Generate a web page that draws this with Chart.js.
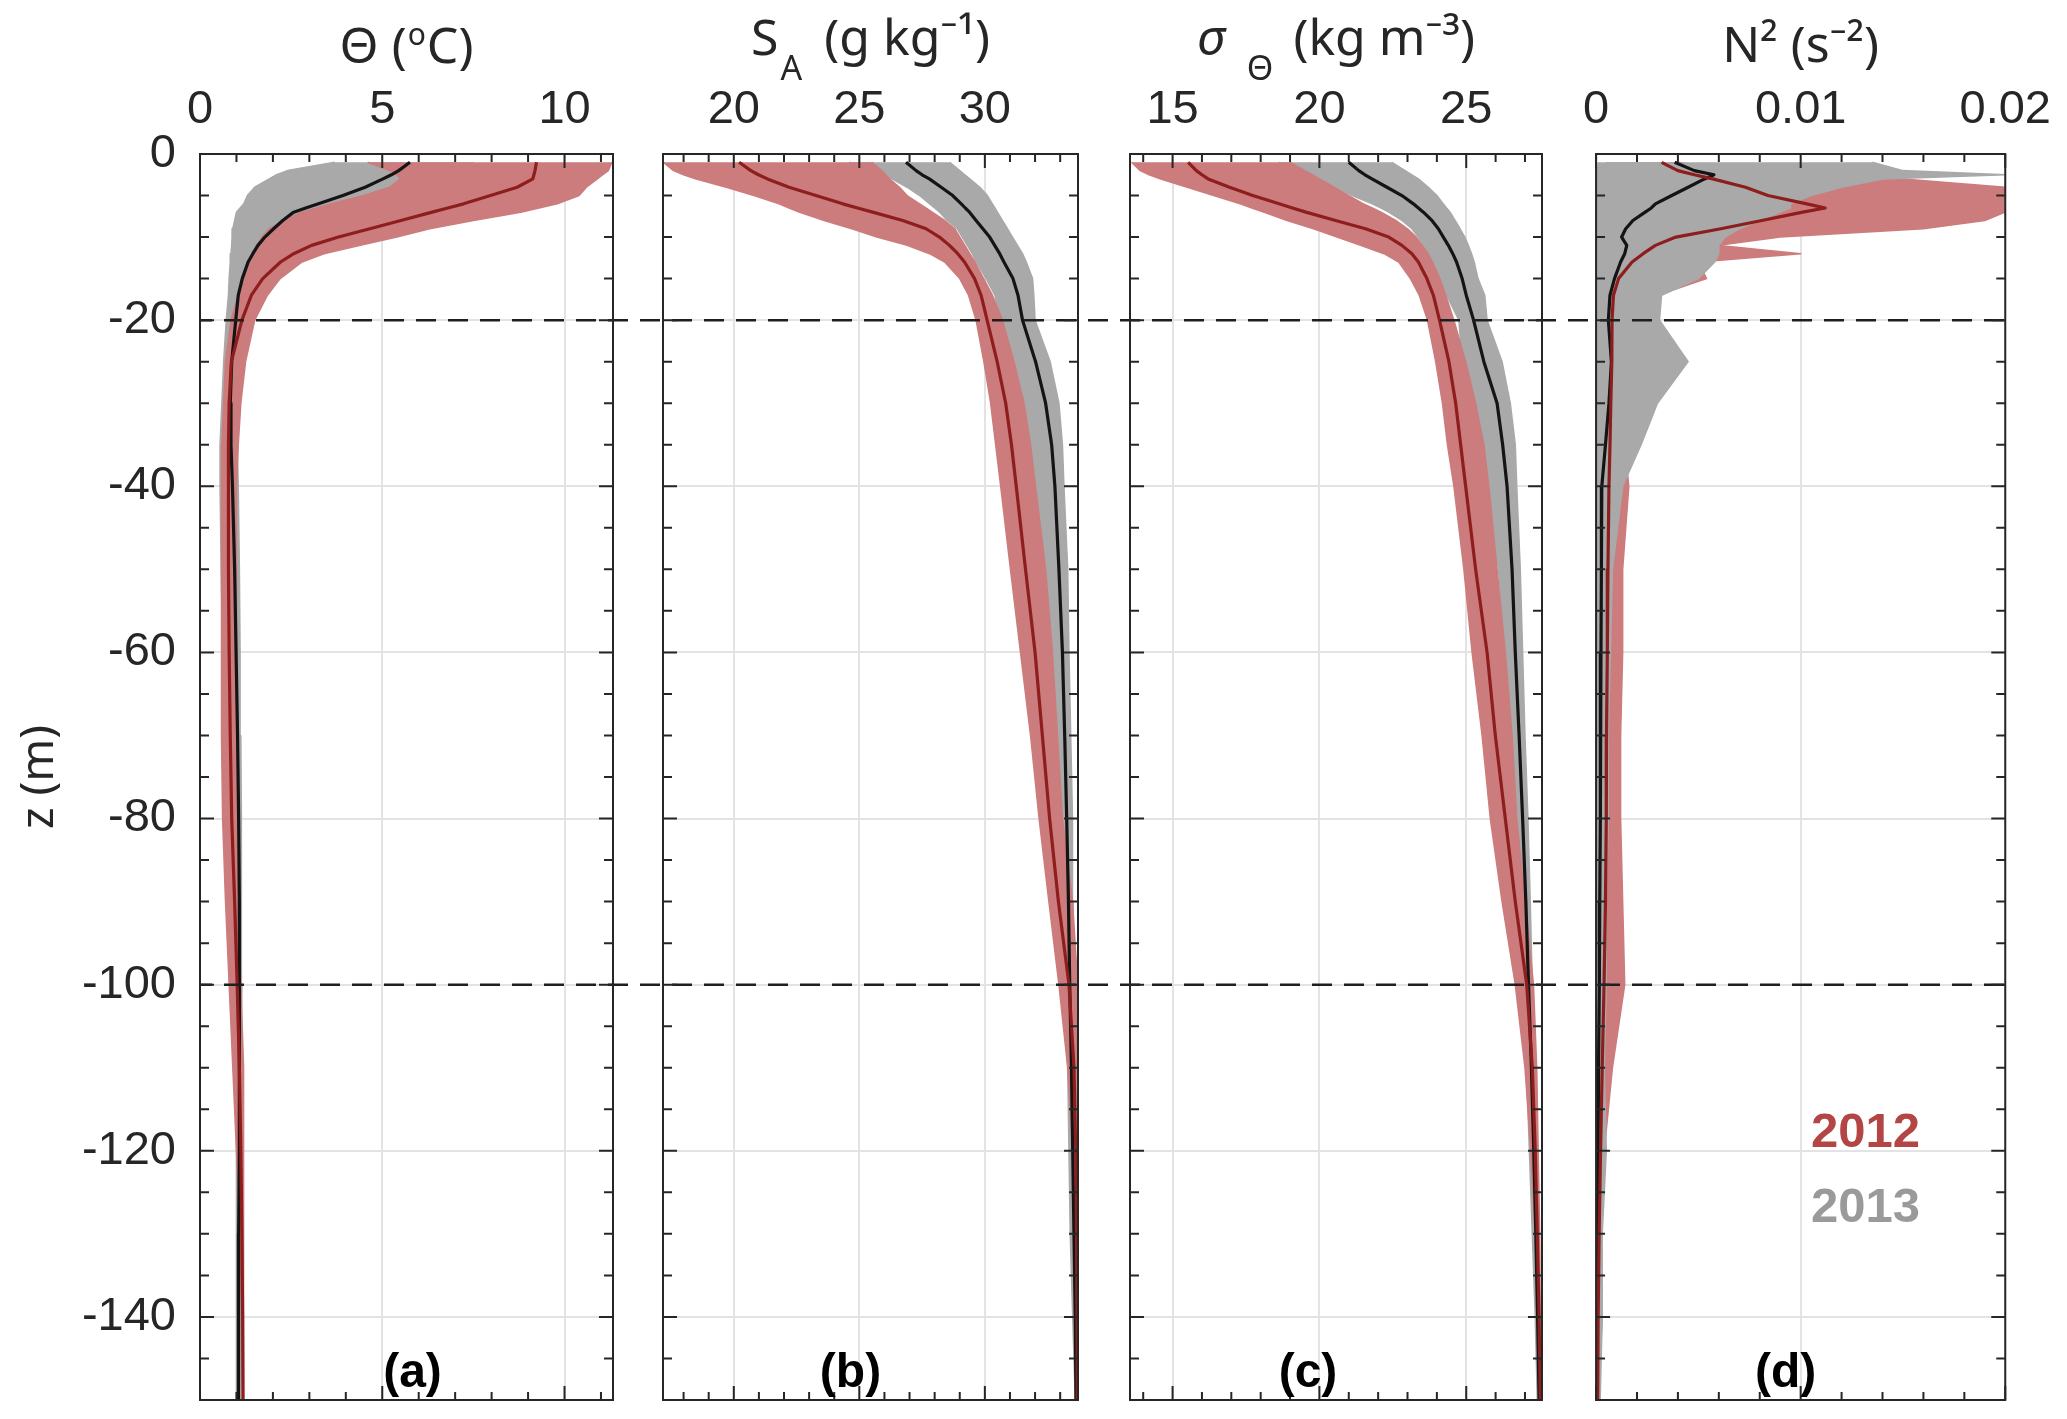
<!DOCTYPE html>
<html>
<head>
<meta charset="utf-8">
<title>Profiles 2012 / 2013</title>
<script src="https://cdn.jsdelivr.net/npm/chart.js@4.4.1/dist/chart.umd.min.js"></script>
<style>
  html, body { margin: 0; padding: 0; background: #fff; }
  #fig { position: relative; width: 2067px; height: 1419px; overflow: hidden; }
  #fig canvas { position: absolute; top: 0; }
</style>
</head>
<body>
<div id="fig">
  <canvas id="pa" width="638" height="1419" style="left:0px"></canvas>
  <canvas id="pb" width="466" height="1419" style="left:638px"></canvas>
  <canvas id="pc" width="463" height="1419" style="left:1104px"></canvas>
  <canvas id="pd" width="500" height="1419" style="left:1567px"></canvas>
</div>
<script>
// depth levels (m), shared by every profile
const depth = [-1, -2, -2.5, -3, -4, -5, -6, -6.5, -7, -8, -9, -10, -11, -12, -13, -15, -17,
  -20, -25, -30, -35, -40, -50, -60, -70, -80, -90, -100, -110, -120, -130, -140, -150];

const zTicks = [-140, -120, -100, -80, -60, -40, -20, 0];
const dashLevels = [-20, -100];

// (a) conservative temperature
const thetaTicks = [0, 5, 10];
const thetaMean13 = [5.76, 5.45, 5.25, 5.02, 4.53, 3.92, 3.25, 2.90, 2.57, 2.27, 2.02, 1.78, 1.59, 1.45, 1.32, 1.16, 1.05,
  0.98, 0.87, 0.83, 0.85, 0.89, 0.95, 0.99, 1.03, 1.06, 1.08, 1.09, 1.08, 1.07, 1.06, 1.06, 1.05];
const thetaMean12 = [9.23, 9.19, 9.16, 9.13, 8.70, 7.97, 7.23, 6.80, 6.37, 5.51, 4.66, 3.80, 3.06, 2.57, 2.21, 1.72, 1.41,
  1.15, 0.86, 0.80, 0.78, 0.78, 0.78, 0.80, 0.83, 0.87, 0.95, 1.02, 1.08, 1.12, 1.15, 1.17, 1.18];
const thetaLo13 = [3.70, 2.40, 2.10, 1.90, 1.50, 1.30, 1.20, 1.10, 1.00, 0.95, 0.90, 0.88, 0.87, 0.85, 0.83, 0.80, 0.78,
  0.72, 0.65, 0.60, 0.55, 0.55, 0.58, 0.62, 0.66, 0.72, 0.85, 0.95, 1.00, 1.00, 1.00, 1.00, 1.00];
const thetaHi13 = [7.50, 7.20, 6.90, 6.60, 5.80, 5.00, 4.30, 3.95, 3.60, 3.00, 2.60, 2.30, 2.10, 1.90, 1.80, 1.65, 1.55,
  1.50, 1.10, 1.05, 1.02, 1.05, 1.08, 1.10, 1.12, 1.13, 1.14, 1.15, 1.12, 1.12, 1.12, 1.12, 1.12];
const thetaLo12 = [4.60, 5.20, 5.40, 5.50, 5.20, 4.50, 3.60, 3.20, 2.80, 2.30, 1.90, 1.70, 1.55, 1.45, 1.35, 1.20, 1.05,
  0.85, 0.70, 0.65, 0.60, 0.60, 0.58, 0.58, 0.60, 0.62, 0.70, 0.80, 0.90, 1.00, 1.10, 1.15, 1.17];
const thetaHi12 = [11.30, 11.20, 11.05, 10.90, 10.60, 10.40, 9.80, 9.30, 8.80, 7.50, 6.30, 5.40, 4.40, 3.40, 2.80, 2.20, 1.85,
  1.50, 1.25, 1.12, 1.05, 1.00, 1.00, 1.00, 1.00, 1.02, 1.05, 1.12, 1.18, 1.20, 1.20, 1.20, 1.20];

// (b) absolute salinity
const saTicks = [20, 25, 30];
const saMean13 = [26.86, 27.26, 27.50, 27.79, 28.26, 28.72, 29.06, 29.22, 29.39, 29.65, 29.92, 30.19, 30.39, 30.59, 30.76, 31.12, 31.32,
  31.50, 32.02, 32.42, 32.66, 32.79, 32.95, 33.09, 33.18, 33.26, 33.33, 33.38, 33.45, 33.50, 33.55, 33.60, 33.63];
const saMean12 = [20.21, 20.68, 20.98, 21.34, 22.20, 23.27, 24.34, 24.93, 25.53, 26.73, 27.66, 28.19, 28.59, 28.92, 29.19, 29.59, 29.85,
  30.09, 30.49, 30.83, 31.06, 31.25, 31.62, 32.00, 32.29, 32.58, 32.93, 33.35, 33.55, 33.62, 33.65, 33.67, 33.68];
const saLo13 = [24.60, 25.50, 25.90, 26.30, 26.90, 27.40, 27.80, 28.00, 28.20, 28.50, 28.90, 29.10, 29.30, 29.50, 29.65, 30.05, 30.40,
  30.60, 30.80, 31.50, 31.75, 31.90, 32.40, 32.70, 32.80, 32.90, 33.00, 33.15, 33.30, 33.35, 33.40, 33.50, 33.60];
const saHi13 = [28.60, 29.00, 29.20, 29.40, 29.80, 30.10, 30.30, 30.40, 30.50, 30.70, 30.90, 31.10, 31.30, 31.50, 31.65, 31.90, 31.95,
  32.00, 32.60, 32.95, 33.09, 33.15, 33.30, 33.35, 33.42, 33.49, 33.51, 33.58, 33.65, 33.68, 33.70, 33.70, 33.70];
const saLo12 = [17.20, 17.60, 18.00, 18.50, 19.70, 20.80, 21.80, 22.20, 22.60, 23.60, 24.70, 25.70, 26.90, 27.80, 28.40, 29.00, 29.35,
  29.65, 29.96, 30.23, 30.43, 30.63, 31.02, 31.42, 31.82, 32.16, 32.55, 32.95, 33.30, 33.50, 33.60, 33.65, 33.65];
const saHi12 = [25.50, 25.90, 26.05, 26.20, 26.60, 26.90, 27.40, 27.65, 27.90, 28.40, 28.80, 29.00, 29.20, 29.40, 29.60, 29.95, 30.30,
  30.70, 31.16, 31.56, 31.82, 32.02, 32.42, 32.69, 32.89, 33.09, 33.49, 33.69, 33.70, 33.70, 33.70, 33.70, 33.70];

// (c) potential density anomaly
const sigTicks = [15, 20, 25];
const sigMean13 = [21.00, 21.34, 21.55, 21.79, 22.30, 22.81, 23.20, 23.37, 23.54, 23.83, 24.05, 24.22, 24.39, 24.54, 24.67, 24.86, 25.00,
  25.25, 25.60, 26.05, 26.24, 26.39, 26.56, 26.67, 26.80, 26.92, 27.03, 27.12, 27.22, 27.30, 27.37, 27.43, 27.48];
const sigMean12 = [15.53, 15.81, 16.00, 16.21, 16.94, 17.73, 18.63, 19.08, 19.54, 20.55, 21.57, 22.36, 22.81, 23.15, 23.37, 23.66, 23.88,
  24.09, 24.41, 24.64, 24.81, 24.98, 25.32, 25.71, 25.99, 26.33, 26.67, 27.06, 27.25, 27.35, 27.42, 27.48, 27.52];
const sigLo13 = [18.63, 19.30, 19.65, 19.99, 20.55, 21.12, 21.80, 22.10, 22.36, 22.81, 23.15, 23.37, 23.54, 23.71, 23.88, 24.10, 24.33,
  24.75, 24.86, 25.09, 25.48, 25.65, 26.10, 26.33, 26.50, 26.60, 26.72, 26.90, 27.05, 27.15, 27.25, 27.35, 27.42];
const sigHi13 = [22.47, 22.92, 23.15, 23.37, 23.71, 24.00, 24.22, 24.33, 24.45, 24.62, 24.79, 24.95, 25.07, 25.18, 25.27, 25.40, 25.63,
  25.71, 26.22, 26.50, 26.67, 26.72, 26.84, 26.92, 27.00, 27.10, 27.18, 27.25, 27.32, 27.38, 27.43, 27.48, 27.52];
const sigLo12 = [13.60, 13.90, 14.20, 14.60, 15.50, 16.40, 17.30, 17.70, 18.10, 18.90, 19.80, 20.60, 21.40, 22.20, 22.70, 23.10, 23.40,
  23.68, 23.96, 24.19, 24.36, 24.58, 24.92, 25.20, 25.54, 25.82, 26.22, 26.67, 27.00, 27.20, 27.35, 27.42, 27.50];
const sigHi12 = [19.00, 19.50, 19.75, 20.00, 20.50, 21.00, 21.50, 21.80, 22.10, 22.60, 23.00, 23.30, 23.50, 23.70, 23.85, 24.10, 24.30,
  24.58, 24.98, 25.32, 25.60, 25.77, 26.05, 26.33, 26.56, 26.72, 27.00, 27.29, 27.40, 27.45, 27.50, 27.52, 27.55];

// (d) buoyancy frequency squared
const n2Ticks = [0, 0.01, 0.02];
const n2Mean13 = [0.00384, 0.0048, 0.00576, 0.0053, 0.0045, 0.0037, 0.0029, 0.0027, 0.0024, 0.0018, 0.00145, 0.00125, 0.0015, 0.0014, 0.0012, 0.0009, 0.00068,
  0.0006, 0.00075, 0.00063, 0.00046, 0.00028, 0.00026, 0.00024, 0.00022, 0.0002, 0.00018, 0.00016, 0.00012, 0.0001, 0.00008, 0.00006, 0.00005];
const n2Mean12 = [0.0032, 0.0040, 0.0048, 0.0057, 0.0073, 0.0084, 0.0103, 0.0112, 0.0101, 0.0081, 0.0061, 0.0039, 0.0029, 0.0023, 0.00176, 0.0011, 0.00085,
  0.00078, 0.00077, 0.00072, 0.00068, 0.00063, 0.00058, 0.00055, 0.00051, 0.0005, 0.00046, 0.00039, 0.0003, 0.00022, 0.00015, 0.0001, 0.00008];
const n2Lo13 = [0.0001, 0.00008, 0.00008, 0.00006, 0.00006, 0.00005, 0.00005, 0.00005, 0.00004, 0.00004, 0.00004, 0.00003, 0.00003, 0.00003, 0.00003, 0.00002, 0.00002,
  0.00002, 0.00002, 0.00002, 0.00001, 0.00001, 0.00001, 0.00001, 0.00001, 0.00001, 0.00001, 0.00001, 0.00001, 0.00001, 0.00001, 0.00001, 0.00001];
const n2Hi13 = [0.0135, 0.0150, 0.0200, 0.0140, 0.0120, 0.0105, 0.0095, 0.0095, 0.0090, 0.0080, 0.0070, 0.0063, 0.0060, 0.0060, 0.0058, 0.0050, 0.0032,
  0.0031, 0.0045, 0.0030, 0.0022, 0.0013, 0.0008, 0.0007, 0.0006, 0.0006, 0.0005, 0.0005, 0.0004, 0.0005, 0.0003, 0.0003, 0.0002];
const n2Lo12 = [0.0005, 0.0010, 0.0015, 0.0020, 0.0035, 0.0045, 0.0054, 0.0054, 0.0050, 0.0045, 0.0038, 0.0030, 0.0020, 0.0015, 0.0010, 0.0006, 0.0004,
  0.0003, 0.00025, 0.0002, 0.0002, 0.00018, 0.00016, 0.00015, 0.00015, 0.00014, 0.00013, 0.00012, 0.0001, 0.00008, 0.00006, 0.00005, 0.00005];
const n2Hi12 = [0.0040, 0.0070, 0.0100, 0.0150, 0.0200, 0.0200, 0.0200, 0.0200, 0.0200, 0.0190, 0.0160, 0.0090, 0.0060, 0.0100, 0.0050, 0.0054, 0.0030,
  0.0026, 0.0018, 0.0015, 0.0014, 0.0016, 0.0013, 0.0013, 0.0012, 0.0012, 0.0013, 0.0014, 0.0008, 0.0004, 0.0002, 0.0003, 0.0001];

const GRAY = '#a9a9a9';
const PINK = '#cc7c7c';
const INK = '#262626';
const TICK_FONT = '"Liberation Sans", Arial, sans-serif';
const TITLE_FONT = '"Noto Sans", "DejaVu Sans", sans-serif';

function band(lo, hi) {
  const pts = depth.map((z, i) => ({ x: lo[i], y: z }));
  for (let i = depth.length - 1; i >= 0; i--) pts.push({ x: hi[i], y: depth[i] });
  return pts;
}

function profile(vals) {
  return depth.map((z, i) => ({ x: vals[i], y: z }));
}

// frame, inner ticks, dashed levels, titles and panel tags
const deco = {
  id: 'deco',
  afterDatasetsDraw(chart, args, o) {
    const { ctx, chartArea: a, scales: { x, y } } = chart;
    ctx.save();

    // dashed reference depths, running across the gaps between panels
    ctx.strokeStyle = '#1e1e1e';
    ctx.lineWidth = 2.5;
    ctx.setLineDash([20, 12]);
    for (const z of dashLevels) {
      const py = y.getPixelForValue(z);
      const x0 = o.dashLeft ? a.left : 0;
      const x1 = o.dashRight ? a.right : chart.width;
      ctx.lineDashOffset = o.offset + x0;
      ctx.beginPath();
      ctx.moveTo(x0, py);
      ctx.lineTo(x1, py);
      ctx.stroke();
    }
    ctx.setLineDash([]);

    // inward tick marks on all four sides
    ctx.strokeStyle = INK;
    ctx.lineWidth = 2;
    ctx.beginPath();
    const xs = o.xMinor;
    for (let k = Math.ceil(x.min / xs - 1e-6); k * xs <= x.max + xs * 1e-6; k++) {
      const v = k * xs;
      const px = x.getPixelForValue(v);
      const major = o.xTicks.some(t => Math.abs(t - v) < xs / 100);
      const L = major ? 14 : 8;
      ctx.moveTo(px, a.top); ctx.lineTo(px, a.top + L);
      ctx.moveTo(px, a.bottom); ctx.lineTo(px, a.bottom - L);
    }
    for (let v = -150; v <= 0; v += 5) {
      const py = y.getPixelForValue(v);
      const L = zTicks.includes(v) ? 14 : 9;
      ctx.moveTo(a.left, py); ctx.lineTo(a.left + L, py);
      ctx.moveTo(a.right, py); ctx.lineTo(a.right - L, py);
    }
    ctx.stroke();
    ctx.strokeRect(a.left, a.top, a.right - a.left, a.bottom - a.top);
    ctx.restore();
  },
  afterDraw(chart, args, o) {
    const { ctx, chartArea: a, scales: { x, y } } = chart;
    ctx.save();
    ctx.fillStyle = INK;
    ctx.textAlign = 'left';
    ctx.textBaseline = 'alphabetic';

    // axis title, built from pieces so subscripts can sit lower
    let total = 0;
    const widths = o.title.map(p => {
      ctx.font = p.f;
      const w = ctx.measureText(p.t).width;
      total += w + (p.gap || 0);
      return w;
    });
    let cx = (a.left + a.right) / 2 - total / 2;
    o.title.forEach((p, i) => {
      cx += p.gap || 0;
      ctx.font = p.f;
      ctx.fillText(p.t, cx, p.b);
      cx += widths[i];
    });

    // panel tag
    ctx.font = 'bold 48px ' + TICK_FONT;
    ctx.fillStyle = '#000';
    ctx.textAlign = 'center';
    ctx.fillText(o.tag, (a.left + a.right) / 2 + o.tagShift, a.bottom - 13);

    // year legend (panel d only)
    if (o.legend) {
      ctx.textAlign = 'left';
      ctx.font = 'bold 49px ' + TICK_FONT;
      o.legend.forEach(item => {
        ctx.fillStyle = item.color;
        ctx.fillText(item.text, x.getPixelForValue(item.x), y.getPixelForValue(item.z));
      });
    }
    ctx.restore();
  }
};

const panels = [
  {
    id: 'pa', offset: 0, pad: { left: 0, right: 25 }, yLabels: true,
    xMin: 0, xMax: 11.33, xTicks: thetaTicks, xMinor: 1,
    lo13: thetaLo13, hi13: thetaHi13, lo12: thetaLo12, hi12: thetaHi12, m13: thetaMean13, m12: thetaMean12,
    grayOnTop: false, dashLeft: true, dashRight: false, tag: '(a)', tagShift: 6,
    title: [
      { t: 'Θ (', f: '50px ' + TITLE_FONT, b: 63 },
      { t: 'o', f: '30px ' + TITLE_FONT, b: 45, gap: 1 },
      { t: 'C)', f: '50px ' + TITLE_FONT, b: 63, gap: 1 }
    ]
  },
  {
    id: 'pb', offset: 638, pad: { left: 25, right: 26 }, yLabels: false,
    xMin: 17.18, xMax: 33.71, xTicks: saTicks, xMinor: 1,
    lo13: saLo13, hi13: saHi13, lo12: saLo12, hi12: saHi12, m13: saMean13, m12: saMean12,
    grayOnTop: false, dashLeft: false, dashRight: false, tag: '(b)', tagShift: -20,
    title: [
      { t: 'S', f: '50px ' + TITLE_FONT, b: 55 },
      { t: 'A', f: '34px ' + TITLE_FONT, b: 80, gap: 2 },
      { t: '(g kg⁻¹)', f: '50px ' + TITLE_FONT, b: 55, gap: 22 }
    ]
  },
  {
    id: 'pc', offset: 1104, pad: { left: 26, right: 25 }, yLabels: false,
    xMin: 13.55, xMax: 27.58, xTicks: sigTicks, xMinor: 1,
    lo13: sigLo13, hi13: sigHi13, lo12: sigLo12, hi12: sigHi12, m13: sigMean13, m12: sigMean12,
    grayOnTop: false, dashLeft: false, dashRight: false, tag: '(c)', tagShift: -28,
    title: [
      { t: 'σ', f: 'italic 50px ' + TITLE_FONT, b: 55 },
      { t: 'Θ', f: '34px ' + TITLE_FONT, b: 80, gap: 22 },
      { t: '(kg m⁻³)', f: '50px ' + TITLE_FONT, b: 55, gap: 20 }
    ]
  },
  {
    id: 'pd', offset: 1567, pad: { left: 25, right: 57 }, yLabels: false,
    xMin: 0, xMax: 0.02, xTicks: n2Ticks, xMinor: 0.002,
    lo13: n2Lo13, hi13: n2Hi13, lo12: n2Lo12, hi12: n2Hi12, m13: n2Mean13, m12: n2Mean12,
    grayOnTop: true, dashLeft: false, dashRight: true, tag: '(d)', tagShift: -15,
    title: [{ t: 'N² (s⁻²)', f: '50px ' + TITLE_FONT, b: 62 }],
    legend: [
      { text: '2012', color: '#b34545', x: 0.0105, z: -119.5 },
      { text: '2013', color: '#9a9a9a', x: 0.0105, z: -128.6 }
    ]
  }
];

panels.forEach(p => {
  const ctx = document.getElementById(p.id).getContext('2d');
  new Chart(ctx, {
    type: 'line',
    data: {
      datasets: [
        {
          label: '2013 profiles', data: band(p.lo13, p.hi13),
          borderColor: GRAY, backgroundColor: GRAY, borderWidth: 1.5, fill: 'shape',
          order: p.grayOnTop ? 3 : 4
        },
        {
          label: '2012 profiles', data: band(p.lo12, p.hi12),
          borderColor: PINK, backgroundColor: PINK, borderWidth: 1.5, fill: 'shape',
          order: p.grayOnTop ? 4 : 3
        },
        {
          label: '2013 mean', data: profile(p.m13),
          borderColor: '#141414', borderWidth: 3.2, fill: false, order: 1
        },
        {
          label: '2012 mean', data: profile(p.m12),
          borderColor: '#8e1d1d', borderWidth: 3.2, fill: false, order: 0
        }
      ]
    },
    options: {
      responsive: false,
      animation: false,
      devicePixelRatio: 1,
      events: [],
      layout: { padding: { left: p.pad.left, right: p.pad.right, top: 0, bottom: 19 } },
      elements: {
        point: { radius: 0, hoverRadius: 0 },
        line: { tension: 0, borderJoinStyle: 'round' }
      },
      plugins: {
        legend: { display: false },
        tooltip: { enabled: false },
        deco: {
          offset: p.offset, xMinor: p.xMinor, xTicks: p.xTicks,
          dashLeft: p.dashLeft, dashRight: p.dashRight,
          title: p.title, tag: p.tag, tagShift: p.tagShift, legend: p.legend
        }
      },
      scales: {
        x: {
          type: 'linear', position: 'top', min: p.xMin, max: p.xMax,
          afterBuildTicks: s => { s.ticks = p.xTicks.map(v => ({ value: v })); },
          afterFit: s => { s.height = 154; },
          grid: { color: '#e3e3e3', lineWidth: 2, drawTicks: false },
          border: { display: false },
          ticks: {
            font: { family: TICK_FONT, size: 47 }, color: INK, padding: 16,
            maxRotation: 0, autoSkip: false, callback: v => String(v)
          }
        },
        y: {
          type: 'linear', min: -150, max: 0,
          afterBuildTicks: s => { s.ticks = zTicks.map(v => ({ value: v })); },
          afterFit: s => {
            s.width = p.yLabels ? 200 : 0;
            // labels sit inside the tall x-axis band, so no extra room needed
            s.paddingTop = 0;
            s.paddingBottom = 0;
          },
          grid: { color: '#e3e3e3', lineWidth: 2, drawTicks: false },
          border: { display: false },
          ticks: {
            display: p.yLabels, font: { family: TICK_FONT, size: 47 }, color: INK, padding: 24,
            autoSkip: false, callback: v => String(v)
          },
          title: {
            display: p.yLabels, text: 'z (m)', color: INK,
            font: { family: TITLE_FONT, size: 46 }, padding: { top: 12, bottom: 0 }
          }
        }
      }
    },
    plugins: [deco]
  });
});
</script>
</body>
</html>
